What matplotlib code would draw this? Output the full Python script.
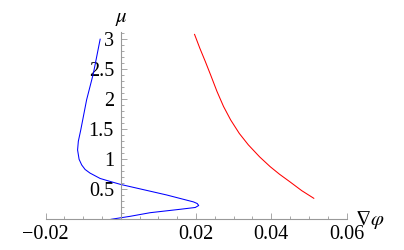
import matplotlib
matplotlib.use("Agg")
import matplotlib.pyplot as plt
from matplotlib.ticker import FixedLocator, MultipleLocator

plt.rcParams['font.family'] = ['Liberation Serif', 'DejaVu Serif']
plt.rcParams['mathtext.fontset'] = 'stix'

# blue branch (traced in order along the curve)
blue_grad = [-0.0026, 0.0025, 0.0078, 0.0158, 0.0198, 0.0207, 0.0203, 0.0193,
             0.0122, 0.0, -0.0028, -0.0055, -0.0082, -0.0095, -0.0104, -0.0111,
             -0.0115, -0.0113, -0.01065, -0.0091, -0.0073, -0.0055]
blue_mu = [0.0, 0.05, 0.11, 0.167, 0.197, 0.23, 0.263, 0.29,
           0.405, 0.58, 0.63, 0.68, 0.77, 0.83, 0.905, 1.0,
           1.155, 1.3, 1.49, 1.99, 2.43, 3.0]

# red branch
red_grad = [0.0513, 0.0481, 0.0449, 0.0422, 0.0397, 0.0369, 0.0339, 0.0315,
            0.0292, 0.0273, 0.02556, 0.0239, 0.02245, 0.0210, 0.0196]
red_mu = [0.35, 0.477, 0.627, 0.75, 0.877, 1.04, 1.24, 1.43,
          1.655, 1.88, 2.13, 2.40, 2.63, 2.85, 3.08]

x_ticks = [-0.02, 0.02, 0.04, 0.06]
x_labels = ["\u22120.02", "0.02", "0.04", "0.06"]
y_ticks = [0.5, 1, 1.5, 2, 2.5, 3]
y_labels = ["0.5", "1", "1.5", "2", "2.5", "3"]

fig = plt.figure(figsize=(4.04, 2.5), dpi=100)
ax = fig.add_axes([0.1129, 0.1228, 0.7448, 0.7492])

ax.plot(blue_grad, blue_mu, color='blue', lw=0.75)
ax.plot(red_grad, red_mu, color='red', lw=0.75)

ax.set_xlim(-0.02, 0.06)
ax.set_ylim(0, 3.12)

for s in ['top', 'right']:
    ax.spines[s].set_visible(False)
ax.spines['left'].set_position(('data', 0))
ax.spines['bottom'].set_position(('data', 0))
for s in ['left', 'bottom']:
    ax.spines[s].set_color('#999999')
    ax.spines[s].set_linewidth(0.8)

ax.xaxis.set_major_locator(FixedLocator(x_ticks))
ax.set_xticklabels(x_labels)
ax.xaxis.set_minor_locator(MultipleLocator(0.005))
ax.yaxis.set_major_locator(FixedLocator(y_ticks))
ax.set_yticklabels(y_labels)
ax.yaxis.set_minor_locator(MultipleLocator(0.1))

ax.tick_params(which='both', direction='in', color='#999999', width=0.6,
               labelsize=14.5)
ax.tick_params(which='major', length=4)
ax.tick_params(which='minor', length=2)
ax.tick_params(axis='x', pad=4)
ax.tick_params(axis='y', pad=5)

fig.text(121 / 404, 1 - 18 / 250, r'$\mu$', fontsize=15, ha='center', va='center')
fig.text(370 / 404, 1 - 220 / 250, r'$\nabla\varphi$', fontsize=15, ha='center', va='center')

fig.savefig("out.png", dpi=100)
